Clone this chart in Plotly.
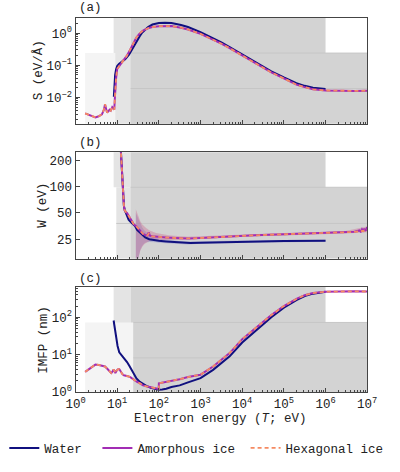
import plotly.graph_objects as go

# ---------------- data ----------------
# Panel (a): stopping power S (eV/Å)
water_a_E = [8.3, 8.4, 8.6, 8.9, 9.4, 10, 11, 12.2, 14, 15.5, 17.3, 19, 20.6, 23, 26, 30, 35, 40, 45, 55,
             70, 85, 100, 140, 200, 340, 500, 1000, 2000, 3162, 5000, 1e4, 2e4, 5e4, 1e5, 2e5, 3.16e5, 5e5, 1e6]
water_a_S = [0.0105, 0.02, 0.04, 0.05, 0.075, 0.095, 0.11, 0.125, 0.14, 0.155, 0.18, 0.21, 0.25, 0.32, 0.45,
             0.62, 0.82, 1.05, 1.2, 1.55, 1.85, 1.98, 2.05, 2.1, 2.05, 1.8, 1.55, 1.08, 0.7, 0.52, 0.37, 0.22,
             0.13, 0.065, 0.042, 0.028, 0.023, 0.02, 0.0185]
ice_a_E = [1.7, 2.2, 3.0, 3.6, 4.3, 4.8, 5.1, 5.4, 5.7, 6.2, 6.6, 7.0, 7.6, 8.15, 8.5, 8.8, 9.1, 9.4, 10, 11,
           12.2, 14.5, 16.9, 20.6, 24, 28.6, 35, 41.6, 55, 70, 100, 150, 200, 340, 500, 1000, 2000, 3162, 5000,
           1e4, 2e4, 5e4, 1e5, 2e5, 3.16e5, 5e5, 1e6, 2e6, 5e6, 1e7]
amorph_a_S = [0.0032, 0.0028, 0.0024, 0.0026, 0.003, 0.0042, 0.0062, 0.0045, 0.0034, 0.0038, 0.0042, 0.0039,
              0.005, 0.0045, 0.0042, 0.01, 0.025, 0.04, 0.078, 0.095, 0.11, 0.15, 0.195, 0.31, 0.48, 0.72, 1.0,
              1.2, 1.42, 1.55, 1.65, 1.7, 1.66, 1.48, 1.3, 0.95, 0.64, 0.47, 0.34, 0.2, 0.12, 0.06, 0.039, 0.025,
              0.021, 0.018, 0.0165, 0.016, 0.016, 0.0163]
hex_a_S = amorph_a_S

# Panel (b): W (eV)
water_b_E = [11.8, 12.3, 12.8, 13.4, 14.0, 14.5, 15.2, 15.9, 17, 18.8, 20.6, 23, 26.8, 30, 34.8, 40, 47, 58.7,
             75, 99, 150, 250, 400, 570, 1000, 3000, 1e4, 1e5, 1e6]
water_b_W = [350, 230, 150, 100, 72, 60, 54, 51, 46, 42, 40, 38, 35.4, 32, 29.7, 27.8, 26.2, 25, 24.4, 24,
             23.6, 23.1, 22.8, 22.6, 22.8, 23.1, 23.4, 23.8, 24]
ice_b_E = [11.8, 12.3, 12.8, 13.4, 14.0, 14.5, 15.0, 15.5, 16.3, 17.2, 19, 22, 25, 29, 32, 35, 38, 41.5, 47,
           53, 57, 61, 70, 85, 110, 150, 250, 520, 1000, 2000, 5500, 2e4, 1e5, 3e5, 1e6, 3e6, 5e6, 6.5e6, 7e6,
           7.5e6, 8e6, 8.5e6, 9e6, 9.5e6, 1e7]
amorph_b_W = [350, 230, 150, 100, 72, 60, 54, 52, 51, 50, 46, 40, 37, 35, 33, 31, 29.5, 28.8, 28, 27.6, 30,
              27.5, 27, 26.7, 26.4, 26.1, 25.8, 25.5, 25.8, 26.3, 27, 27.7, 28.5, 29, 29.3, 30, 30.4, 31.5,
              30.5, 32.5, 31, 33, 31.5, 32, 34.5]
hex_b_W = [350, 230, 150, 100, 72, 60, 54, 52, 51, 50, 46, 40, 37, 35, 33, 31, 29.5, 28.8, 28, 27.6, 29,
           27.5, 27, 26.7, 26.4, 26.1, 25.8, 25.5, 25.8, 26.3, 27, 27.7, 28.5, 29, 29.3, 30, 30.3, 30.8,
           30.6, 31.2, 30.8, 31.5, 31, 31.2, 32]
# uncertainty bands for W
band_E = [28, 30, 33, 36, 40, 45, 50, 60, 70, 85, 100, 130, 170, 230, 300, 500, 1000, 3000, 1e4, 1e5, 1e6]
water_band_hi = [50, 46, 41, 37, 34, 31.5, 30, 28, 27, 26, 25.5, 25, 24.5, 24, 23.8, 23.5, 23.7, 24, 24.2, 24.5, 24.7]
water_band_lo = [8, 12, 16, 19, 21, 22.5, 23, 23.2, 23.2, 23, 22.8, 22.6, 22.4, 22.1, 22, 21.8, 22.2, 22.5, 22.8, 23.1, 23.3]
ice_band_E = band_E + [3e6, 1e7]
ice_band_hi = [55, 50, 44, 40, 37, 35, 33.5, 31.5, 30.5, 29.5, 29, 28.3, 27.8, 27.4, 27.1, 26.7, 27, 27.6, 28.4, 29.4, 30.2, 31, 35]
ice_band_lo = [8, 12, 16, 18.5, 20.5, 22, 23, 24, 24.5, 24.8, 24.8, 24.6, 24.6, 24.5, 24.5, 24.4, 25, 25.8, 26.6, 27.6, 28.4, 29, 30]

# Panel (c): IMFP (nm)
water_c_E = [8.2, 8.5, 8.9, 9.4, 10.2, 11.2, 12.2, 13.3, 15, 17.2, 19.5, 22.5, 26, 29, 35, 41.6, 50, 64, 80,
             99, 120, 150, 200, 316, 500, 1000, 2000, 3162, 5000, 1e4, 2e4, 3.16e4, 5e4, 1e5, 2e5, 3.16e5, 5e5, 1e6]
water_c_L = [82, 60, 40, 29, 17, 11.5, 10.2, 9.4, 7.9, 6.3, 5.0, 3.8, 2.8, 2.3, 1.85, 1.6, 1.45, 1.3, 1.2,
             1.15, 1.17, 1.22, 1.35, 1.5, 1.8, 2.35, 3.9, 5.9, 9, 21, 42, 65, 100, 180, 290, 370, 430, 480]
ice_c_E = [1.7, 2.2, 3.0, 3.6, 4.3, 5.1, 6.0, 6.6, 7.2, 7.7, 8.2, 8.7, 9.0, 9.5, 10.3, 11.2, 12, 13.3, 14.5, 16,
           18.8, 21, 24.5, 30, 35, 41.6, 50, 60, 70, 85, 99, 100, 150, 200, 316, 500, 1000, 2000, 3162, 5000,
           1e4, 2e4, 3.16e4, 5e4, 1e5, 2e5, 3.16e5, 5e5, 1e6, 2e6, 5e6, 1e7]
amorph_c_L = [3.45, 4.2, 5.4, 5.3, 5.0, 4.8, 4.0, 3.6, 3.2, 3.5, 4.0, 3.6, 3.2, 3.6, 4.0, 4.1, 3.5, 3.0, 2.8,
              2.75, 2.6, 2.45, 2.15, 1.85, 1.7, 1.5, 1.42, 1.35, 1.3, 1.25, 1.2, 1.7, 1.85, 2.0, 2.2, 2.5, 2.9,
              4.8, 7.3, 11, 26, 50, 75, 115, 200, 310, 390, 445, 485, 495, 495, 490]
hex_c_L = amorph_c_L

# tick labels
x_tickvals = [1, 10, 100, 1e3, 1e4, 1e5, 1e6, 1e7]
x_ticktext = ["10<sup>0</sup>", "10<sup>1</sup>", "10<sup>2</sup>", "10<sup>3</sup>", "10<sup>4</sup>",
              "10<sup>5</sup>", "10<sup>6</sup>", "10<sup>7</sup>"]
a_tickvals = [0.01, 0.1, 1]
a_ticktext = ["10<sup>\u22122</sup>", "10<sup>\u22121</sup>", "10<sup>0</sup>"]
b_tickvals = [25, 50, 100, 200]
b_ticktext = ["25", "50", "100", "200"]
c_tickvals = [1, 10, 100]
c_ticktext = ["10<sup>0</sup>", "10<sup>1</sup>", "10<sup>2</sup>"]
series_names = ["Water", "Amorphous ice", "Hexagonal ice"]

# ---------------- style ----------------
FONT = "Liberation Mono"
FS = 12.5
TXT = "#222222"
C_WATER = "#10107f"
C_AMORPH = "#a22db4"
C_HEX = "#f58a62"
FRAME = "#444444"
G_LIGHT = "#f4f4f4"
G_MED = "#e4e4e4"
G_DARK = "#d3d3d3"
G_LINE = "#c6c6c6"
W, H = 400, 472

fig = go.Figure()

def band(E, lo, hi, color, xa, ya):
    fig.add_trace(go.Scatter(x=E + E[::-1], y=hi + lo[::-1], fill="toself", fillcolor=color,
                             line=dict(width=0), mode="lines", showlegend=False, hoverinfo="skip",
                             xaxis=xa, yaxis=ya))

band(band_E, water_band_lo, water_band_hi, "rgba(60,60,190,0.22)", "x2", "y2")
band(ice_band_E, ice_band_lo, ice_band_hi, "rgba(170,60,170,0.22)", "x2", "y2")
band(ice_band_E, ice_band_lo, ice_band_hi, "rgba(245,140,110,0.18)", "x2", "y2")

def add_set(E_w, y_w, E_i, y_am, y_hx, xa, ya, show):
    fig.add_trace(go.Scatter(x=E_w, y=y_w, mode="lines", line=dict(color=C_WATER, width=2),
                             name=series_names[0], showlegend=show, legend="legend",
                             xaxis=xa, yaxis=ya))
    fig.add_trace(go.Scatter(x=E_i, y=y_am, mode="lines", line=dict(color=C_AMORPH, width=2),
                             name=series_names[1], showlegend=show, legend="legend2",
                             xaxis=xa, yaxis=ya))
    fig.add_trace(go.Scatter(x=E_i, y=y_hx, mode="lines", line=dict(color=C_HEX, width=1.8, dash="4px,3px"),
                             name=series_names[2], showlegend=show, legend="legend3",
                             xaxis=xa, yaxis=ya))

add_set(water_a_E, water_a_S, ice_a_E, amorph_a_S, hex_a_S, "x", "y", True)
add_set(water_b_E, water_b_W, ice_b_E, amorph_b_W, hex_b_W, "x2", "y2", False)
add_set(water_c_E, water_c_L, ice_c_E, amorph_c_L, hex_c_L, "x3", "y3", False)

xdom = [69 / W, 376 / W]
doms = {"a": [1 - 126 / H, 1 - 18 / H], "b": [1 - 263 / H, 1 - 155 / H], "c": [1 - 398.7 / H, 1 - 292 / H]}

x_minor = [m * 10 ** k for k in range(0, 7) for m in range(2, 10)]
a_minor = [m * 10 ** k for k in (-3, -2, -1, 0) for m in range(2, 10)]
c_minor = [m * 10 ** k for k in (0, 1, 2) for m in range(2, 10)]

def xaxis(anchor, labels):
    return dict(type="log", range=[0, 7], domain=xdom, anchor=anchor,
                tickvals=x_tickvals, ticktext=x_ticktext, showticklabels=labels,
                ticks="inside", ticklen=4, tickcolor=FRAME, showgrid=False, zeroline=False,
                showline=True, linecolor=FRAME, linewidth=1, mirror=True,
                minor=dict(tickvals=x_minor, ticks="inside", ticklen=2, tickcolor=FRAME, showgrid=False),
                tickfont=dict(family=FONT, size=FS, color=TXT))

def yaxis(dom, anchor, rng, tv, tt, minor_vals):
    d = dict(type="log", range=rng, domain=dom, anchor=anchor, tickvals=tv, ticktext=tt,
             ticks="inside", ticklen=4, tickcolor=FRAME, showgrid=False, zeroline=False,
             showline=True, linecolor=FRAME, linewidth=1, mirror=True,
             tickfont=dict(family=FONT, size=FS, color=TXT))
    if minor_vals:
        d["minor"] = dict(tickvals=minor_vals, ticks="inside", ticklen=2, tickcolor=FRAME, showgrid=False)
    return d

def leg(xpx):
    return dict(orientation="h", x=xpx / W, xanchor="left", y=1 - 456 / H, yanchor="middle",
                font=dict(family=FONT, size=FS, color=TXT), itemwidth=30, bgcolor="rgba(0,0,0,0)",
                borderwidth=0)

fig.update_layout(
    width=W, height=H, margin=dict(l=0, r=0, t=0, b=0),
    paper_bgcolor="white", plot_bgcolor="white",
    xaxis=xaxis("y", False), xaxis2=xaxis("y2", False), xaxis3=xaxis("y3", True),
    yaxis=yaxis(doms["a"], "x", [-2.82, 0.48], a_tickvals, a_ticktext, a_minor),
    yaxis2=yaxis(doms["b"], "x2", [1.176, 2.395], b_tickvals, b_ticktext, None),
    yaxis3=yaxis(doms["c"], "x3", [0, 2.81], c_tickvals, c_ticktext, c_minor),
    legend=leg(-6), legend2=leg(92), legend3=leg(248),
    font=dict(family=FONT, size=FS, color=TXT),
)

def rect(xr, x0, x1, yr, y0, y1, color):
    fig.add_shape(type="rect", xref=xr, yref=yr + " domain", x0=x0, x1=x1, y0=y0, y1=y1,
                  fillcolor=color, line=dict(width=0), layer="below")

def hline(xr, x0, x1, yr, y):
    fig.add_shape(type="line", xref=xr, yref=yr + " domain", x0=x0, x1=x1, y0=y, y1=y,
                  line=dict(color=G_LINE, width=1), layer="below")

# (a)
fa = (126 - 54) / 108
rect("x", 8.2, 21, "y", 0, 1, G_MED)
rect("x", 21, 1e6, "y", 0, 1, G_DARK)
rect("x", 1.7, 9.0, "y", 0, fa, G_LIGHT)
rect("x", 21, 1e7, "y", 0, fa, G_DARK)
hline("x", 21, 1e7, "y", fa)
hline("x", 21, 1e7, "y", (126 - 90) / 108)

# (b)
fb = (263 - 190.5) / 108
rect("x2", 8.2, 21, "y2", fb, 1, G_MED)
rect("x2", 21, 1e6, "y2", 0, 1, G_DARK)
rect("x2", 9.5, 21, "y2", 0, fb, G_MED)
rect("x2", 21, 1e7, "y2", 0, fb, G_DARK)
hline("x2", 21, 1e7, "y2", fb)
hline("x2", 9.5, 1e7, "y2", (263 - 227.3) / 108)

# (c)
fc = (398.7 - 328) / 106.7
rect("x3", 8.2, 21, "y3", 0, 1, G_MED)
rect("x3", 21, 1e6, "y3", 0, 1, G_DARK)
rect("x3", 1.7, 24.5, "y3", 0, fc, G_LIGHT)
rect("x3", 24.5, 1e7, "y3", 0, fc, G_DARK)
hline("x3", 24.5, 1e7, "y3", fc)
hline("x3", 24.5, 1e7, "y3", (398.7 - 364) / 106.7)

for lab, ypx in (("(a)", 8.5), ("(b)", 145.5), ("(c)", 283.5)):
    fig.add_annotation(text=lab, xref="paper", yref="paper", x=70 / W, y=1 - ypx / H,
                       xanchor="left", yanchor="middle", showarrow=False,
                       font=dict(family=FONT, size=FS, color=TXT))

for lab, xpx, dom in (("S (eV/Å)", 30, doms["a"]), ("W (eV)", 35, doms["b"]), ("IMFP (nm)", 36, doms["c"])):
    fig.add_annotation(text=lab, xref="paper", yref="paper", x=xpx / W, y=(dom[0] + dom[1]) / 2,
                       textangle=-90, xanchor="center", yanchor="middle", showarrow=False,
                       font=dict(family=FONT, size=FS, color=TXT))

fig.add_annotation(text="Electron energy (<i>T</i>; eV)", xref="paper", yref="paper", x=222 / W,
                   y=1 - 426 / H, xanchor="center", yanchor="middle", showarrow=False,
                   font=dict(family=FONT, size=FS, color=TXT))

fig.write_html("out.html")
